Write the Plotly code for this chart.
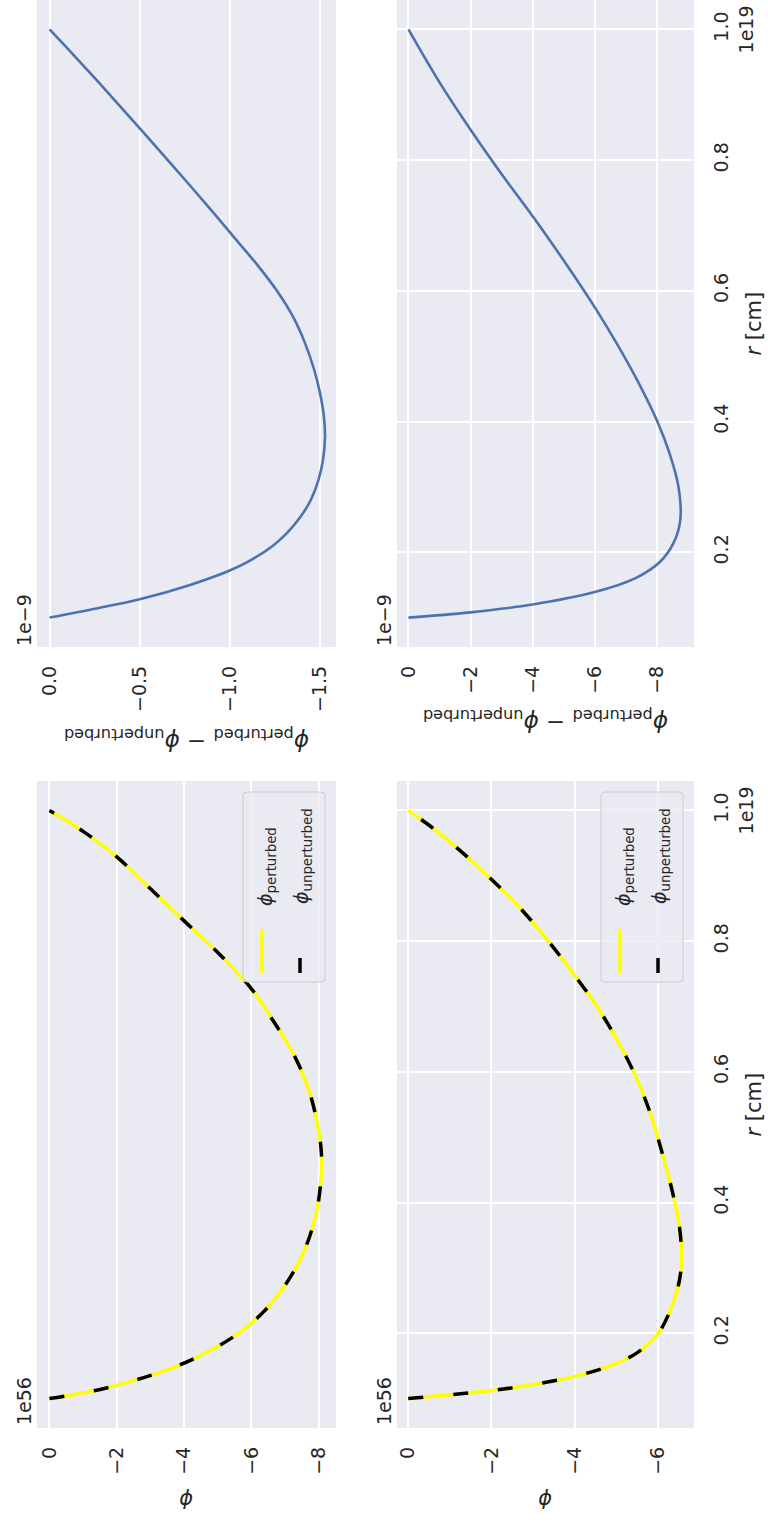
import plotly.graph_objects as go

W, H = 768, 1524
FONT = "DejaVu Sans"
TXT = "#262626"
BG = "#eaeaf2"
BLUE = "#4c72b0"

# ---- data -------------------------------------------------------------
# radius in units of 1e19 cm, potential in units of 1e56, difference in 1e-9

# case A: potential
r_phi_a = [0.100, 0.112, 0.129, 0.151, 0.180, 0.205, 0.235, 0.270, 0.310, 0.350,
           0.390, 0.440, 0.480, 0.530, 0.580, 0.630, 0.680, 0.727, 0.780, 0.831,
           0.880, 0.929, 0.968, 1.000]
phi_a = [0.0, -1.33, -2.60, -3.85, -5.00, -5.75, -6.40, -6.95, -7.42, -7.74,
         -7.95, -8.07, -8.07, -7.92, -7.65, -7.22, -6.62, -6.00, -5.05, -4.00,
         -3.00, -2.00, -1.00, 0.0]

# case A: perturbed minus unperturbed
r_dphi_a = [0.100, 0.114, 0.128, 0.150, 0.172, 0.190, 0.210, 0.230, 0.255, 0.280,
            0.310, 0.340, 0.376, 0.410, 0.445, 0.480, 0.520, 0.560, 0.600, 0.640,
            0.680, 0.720, 0.760, 0.800, 0.840, 0.880, 0.920, 0.960, 1.000]
dphi_a = [0.0, -0.26, -0.50, -0.78, -1.00, -1.13, -1.24, -1.32, -1.395, -1.450,
          -1.492, -1.517, -1.529, -1.522, -1.500, -1.468, -1.418, -1.352, -1.262, -1.152,
          -1.030, -0.908, -0.783, -0.656, -0.528, -0.399, -0.269, -0.136, 0.0]

# case B: potential
r_phi_b = [0.100, 0.107, 0.113, 0.122, 0.134, 0.150, 0.170, 0.199, 0.237, 0.281,
           0.319, 0.363, 0.414, 0.477, 0.540, 0.597, 0.650, 0.700, 0.745, 0.795,
           0.845, 0.894, 0.940, 0.975, 1.000]
phi_b = [0.0, -1.20, -2.10, -3.05, -4.00, -4.85, -5.50, -6.00, -6.31, -6.52,
         -6.57, -6.52, -6.36, -6.10, -5.80, -5.44, -5.01, -4.54, -4.03, -3.43,
         -2.77, -2.01, -1.22, -0.55, 0.0]

# case B: perturbed minus unperturbed
r_dphi_b = [0.100, 0.108, 0.120, 0.139, 0.160, 0.185, 0.215, 0.250, 0.300, 0.350,
            0.400, 0.464, 0.521, 0.572, 0.641, 0.711, 0.780, 0.843, 0.919, 1.000]
dphi_b = [0.0, -1.98, -4.00, -6.00, -7.30, -8.10, -8.55, -8.76, -8.70, -8.42,
          -8.02, -7.36, -6.69, -6.04, -5.08, -4.05, -2.98, -2.05, -1.00, 0.0]

r_ticks = [0.2, 0.4, 0.6, 0.8, 1.0]
phi_ticks_a = [0, -2, -4, -6, -8]
dphi_ticks_a = [0.0, -0.5, -1.0, -1.5]
phi_ticks_b = [0, -2, -4, -6]
dphi_ticks_b = [0, -2, -4, -6, -8]

R_OFFSET = "1e19"
PHI_OFFSET = "1e56"
DPHI_OFFSET = "1e\u22129"

LBL_PHI = "<i>ϕ</i>"
LBL_DPHI = "<i>ϕ</i><sub>perturbed</sub> \u2212 <i>ϕ</i><sub>unperturbed</sub>"


def fmt(v, dec):
    s = f"{abs(v):.{dec}f}"
    return ("\u2212" + s) if v < 0 else s


# ---- layout geometry (pixels) ----------------------------------------
COLS = {"A": (37, 336), "B": (397, 694)}
ROWS = {"diff": (0, 647), "phi": (781, 1428)}
R_RANGE = [0.055, 1.045]


def px(x):
    return x / W


def py(y):
    return 1 - y / H


panels = [
    dict(col="A", row="phi", r=r_phi_a, v=phi_a, xr=[0.37, -8.51],
         ticks=phi_ticks_a, dec=0, off=PHI_OFFSET, label=LBL_PHI, ly=1500, lsize=21),
    dict(col="A", row="diff", r=r_dphi_a, v=dphi_a, xr=[0.07, -1.59],
         ticks=dphi_ticks_a, dec=1, off=DPHI_OFFSET, label=LBL_DPHI, ly=740, lsize=23),
    dict(col="B", row="phi", r=r_phi_b, v=phi_b, xr=[0.27, -6.87],
         ticks=phi_ticks_b, dec=0, off=PHI_OFFSET, label=LBL_PHI, ly=1500, lsize=21),
    dict(col="B", row="diff", r=r_dphi_b, v=dphi_b, xr=[0.37, -9.2],
         ticks=dphi_ticks_b, dec=0, off=DPHI_OFFSET, label=LBL_DPHI, ly=721, lsize=23),
]

fig = go.Figure()
annotations = []
shapes = []
layout_axes = {}

tickfont = dict(family=FONT, size=19, color=TXT)
DASH = "15px,30px"
SMOOTH = 1.0

for i, p in enumerate(panels, start=1):
    sfx = "" if i == 1 else str(i)
    x0, x1 = COLS[p["col"]]
    y0, y1 = ROWS[p["row"]]
    right_col = p["col"] == "B"

    layout_axes[f"xaxis{sfx}"] = dict(
        domain=[px(x0), px(x1)], anchor=f"y{sfx}", range=p["xr"],
        tickvals=p["ticks"], ticktext=[fmt(t, p["dec"]) for t in p["ticks"]],
        tickangle=-90, showgrid=True, gridcolor="white", gridwidth=1.5,
        zeroline=False, showline=False, ticks="", tickfont=tickfont,
        ticklabelstandoff=14,
    )
    layout_axes[f"yaxis{sfx}"] = dict(
        domain=[py(y1), py(y0)], anchor=f"x{sfx}", range=R_RANGE, side="right",
        tickvals=r_ticks, ticktext=[f"{t:.1f}" for t in r_ticks],
        tickangle=-90, showgrid=right_col, gridcolor="white", gridwidth=1.5,
        showticklabels=right_col, zeroline=False, showline=False, ticks="",
        tickfont=tickfont, ticklabelstandoff=14,
    )

    xs, ys = p["v"], p["r"]
    if p["row"] == "phi":
        fig.add_trace(go.Scatter(x=xs, y=ys, mode="lines",
                                 line=dict(color="yellow", width=3.5, shape="spline",
                                           smoothing=SMOOTH),
                                 xaxis=f"x{sfx}", yaxis=f"y{sfx}",
                                 name="perturbed", showlegend=False))
        fig.add_trace(go.Scatter(x=xs, y=ys, mode="lines",
                                 line=dict(color="black", width=3.5, dash=DASH,
                                           shape="spline", smoothing=SMOOTH),
                                 xaxis=f"x{sfx}", yaxis=f"y{sfx}",
                                 name="unperturbed", showlegend=False))
    else:
        fig.add_trace(go.Scatter(x=xs, y=ys, mode="lines",
                                 line=dict(color=BLUE, width=2.6, shape="spline",
                                           smoothing=SMOOTH),
                                 xaxis=f"x{sfx}", yaxis=f"y{sfx}",
                                 showlegend=False))

    # offset text of the potential axis
    annotations.append(dict(text=p["off"], textangle=-90, xref="paper", yref="paper",
                            x=px(x0 - 13), y=py(y1 - 27), showarrow=False,
                            xanchor="center", yanchor="middle",
                            font=dict(family=FONT, size=19, color=TXT)))
    # axis label of the potential axis
    annotations.append(dict(text=p["label"], textangle=180, xref="paper", yref="paper",
                            x=px((x0 + x1) / 2), y=py(p["ly"]), showarrow=False,
                            xanchor="center", yanchor="middle",
                            font=dict(family=FONT, size=p["lsize"], color=TXT)))

    if right_col:
        annotations.append(dict(text=R_OFFSET, textangle=-90, xref="paper", yref=f"y{sfx}",
                                x=px(746), y=1.0, showarrow=False,
                                xanchor="center", yanchor="middle",
                                font=dict(family=FONT, size=19, color=TXT)))
        annotations.append(dict(text="<i>r</i> [cm]", textangle=-90, xref="paper", yref="paper",
                                x=px(753), y=py((y0 + y1) / 2), showarrow=False,
                                xanchor="center", yanchor="middle",
                                font=dict(family=FONT, size=21, color=TXT)))

    if p["row"] == "phi":
        # legend box in the upper right of the potential panels
        bx1 = x1 - 11
        bx0 = bx1 - 82
        by0, by1 = y0 + 11, y0 + 201
        rr = 4
        pts = [
            f"M {px(bx0 + rr)},{py(by0)}", f"L {px(bx1 - rr)},{py(by0)}",
            f"Q {px(bx1)},{py(by0)} {px(bx1)},{py(by0 + rr)}",
            f"L {px(bx1)},{py(by1 - rr)}",
            f"Q {px(bx1)},{py(by1)} {px(bx1 - rr)},{py(by1)}",
            f"L {px(bx0 + rr)},{py(by1)}",
            f"Q {px(bx0)},{py(by1)} {px(bx0)},{py(by1 - rr)}",
            f"L {px(bx0)},{py(by0 + rr)}",
            f"Q {px(bx0)},{py(by0)} {px(bx0 + rr)},{py(by0)} Z",
        ]
        shapes.append(dict(type="path", path=" ".join(pts), xref="paper", yref="paper",
                           fillcolor="rgba(234,234,242,0.8)",
                           line=dict(color="#cccccc", width=1)))
        hx1 = bx0 + 19
        hx2 = bx0 + 57
        hb, ht = by0 + 181, by0 + 137
        shapes.append(dict(type="line", xref="paper", yref="paper",
                           x0=px(hx1), x1=px(hx1), y0=py(hb), y1=py(ht),
                           line=dict(color="yellow", width=3.5)))
        shapes.append(dict(type="line", xref="paper", yref="paper",
                           x0=px(hx2), x1=px(hx2), y0=py(hb), y1=py(ht),
                           line=dict(color="black", width=3.5, dash=DASH)))
        annotations.append(dict(text="<i>ϕ</i><sub>perturbed</sub>", textangle=-90,
                                xref="paper", yref="paper", x=px(hx1 + 4), y=py(by0 + 75),
                                showarrow=False, xanchor="center", yanchor="middle",
                                font=dict(family=FONT, size=19, color=TXT)))
        annotations.append(dict(text="<i>ϕ</i><sub>unperturbed</sub>", textangle=-90,
                                xref="paper", yref="paper", x=px(hx2 + 2), y=py(by0 + 64),
                                showarrow=False, xanchor="center", yanchor="middle",
                                font=dict(family=FONT, size=19, color=TXT)))

fig.update_layout(
    width=W, height=H, margin=dict(l=0, r=0, t=0, b=0),
    paper_bgcolor="white", plot_bgcolor=BG,
    showlegend=False, annotations=annotations, shapes=shapes,
    font=dict(family=FONT, color=TXT),
    **layout_axes,
)

fig.write_html("out.html")
